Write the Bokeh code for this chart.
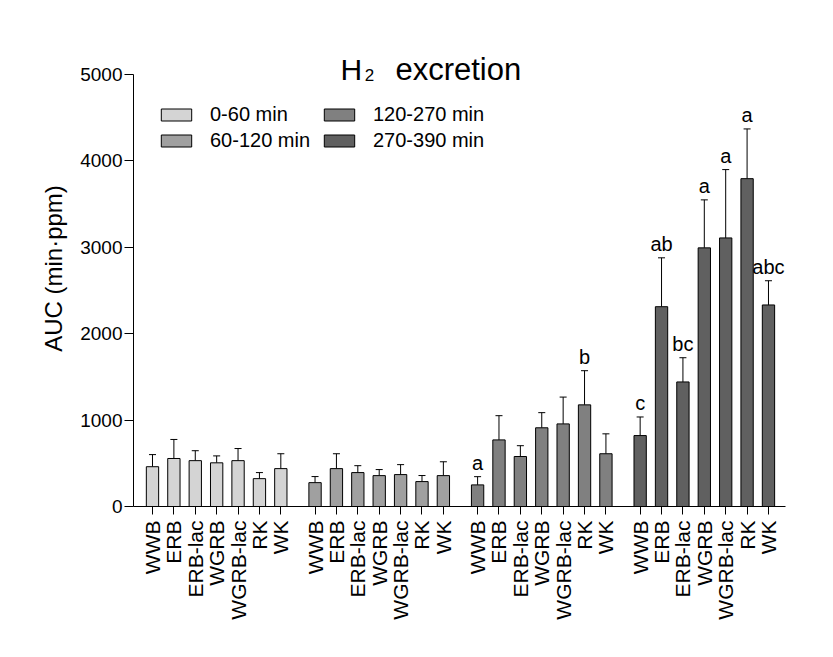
from bokeh.plotting import figure
from bokeh.models import ColumnDataSource, Legend, LegendItem, Label, Range1d, FixedTicker
from bokeh.embed import file_html
from bokeh.resources import INLINE
from bokeh.core.properties import value

# ---------------- data ----------------
categories = ["WWB", "ERB", "ERB-lac", "WGRB", "WGRB-lac", "RK", "WK"]
periods = ["0-60 min", "60-120 min", "120-270 min", "270-390 min"]

auc_0_60 = [460, 555, 530, 505, 530, 322, 438]
err_0_60 = [140, 220, 115, 80, 140, 70, 172]
auc_60_120 = [276, 438, 392, 357, 369, 288, 357]
err_60_120 = [70, 172, 80, 70, 115, 70, 160]
auc_120_270 = [250, 770, 578, 910, 955, 1175, 610]
err_120_270 = [95, 280, 125, 175, 310, 395, 230]
auc_270_390 = [820, 2310, 1440, 2990, 3105, 3790, 2330]
err_270_390 = [215, 565, 280, 555, 790, 575, 280]

letters_0_60 = ["", "", "", "", "", "", ""]
letters_60_120 = ["", "", "", "", "", "", ""]
letters_120_270 = ["a", "", "", "", "", "b", ""]
letters_270_390 = ["c", "ab", "bc", "a", "a", "a", "abc"]

y_ticks = [0, 1000, 2000, 3000, 4000, 5000]
colors = ["#d4d4d4", "#a0a0a0", "#808080", "#606060"]

means = [auc_0_60, auc_60_120, auc_120_270, auc_270_390]
errs = [err_0_60, err_60_120, err_120_270, err_270_390]
letters = [letters_0_60, letters_60_120, letters_120_270, letters_270_390]

# ---------------- layout constants ----------------
STEP = 5          # distance between bars inside a group
GROUP = 38        # distance between group starts
BAR_W = 2.88
CAP = 0.82
FONT = "Liberation Sans"

p = figure(width=817, height=641, output_backend="svg", toolbar_location=None,
           x_range=Range1d(-4.44, 147.98), y_range=Range1d(0, 5503),
           min_border_left=133, min_border_right=32, min_border_top=30,
           min_border_bottom=135)
p.outline_line_color = None
p.grid.grid_line_color = None
p.background_fill_color = "white"

renderers = []
tick_pos = []
tick_lab = {}
for g in range(4):
    xs = [g * GROUP + i * STEP for i in range(len(categories))]
    tops = [m + e for m, e in zip(means[g], errs[g])]
    src = ColumnDataSource(dict(x=xs, top=means[g], etop=tops,
                                x0=[x - CAP for x in xs], x1=[x + CAP for x in xs],
                                lab=letters[g]))
    p.segment(x0="x", y0="top", x1="x", y1="etop", source=src, line_color="black", line_width=1)
    p.segment(x0="x0", y0="etop", x1="x1", y1="etop", source=src, line_color="black", line_width=1)
    r = p.vbar(x="x", top="top", width=BAR_W, bottom=0, source=src,
               fill_color=colors[g], line_color="black", line_width=1)
    renderers.append(r)
    p.text(x="x", y="etop", text="lab", source=src, text_align="center",
           text_baseline="alphabetic", y_offset=-14, text_font=value(FONT),
           text_font_size="20px", text_color="black")
    for x, c in zip(xs, categories):
        tick_pos.append(x)
        tick_lab[x] = c

# axes
p.xaxis.ticker = FixedTicker(ticks=tick_pos)
p.xaxis.major_label_overrides = tick_lab
p.xaxis.major_label_orientation = 3.14159265 / 2
p.xaxis.minor_tick_line_color = None
p.xaxis.major_tick_in = 0
p.xaxis.major_tick_out = 8
p.xaxis.major_label_standoff = 6
p.xaxis.major_label_text_font = FONT
p.xaxis.major_label_text_font_size = "21px"
p.xaxis.major_label_text_color = "black"

p.yaxis.ticker = FixedTicker(ticks=y_ticks)
p.yaxis.bounds = (0, 5000)
p.yaxis.minor_tick_line_color = None
p.yaxis.major_tick_in = 0
p.yaxis.major_tick_out = 9
p.yaxis.major_label_standoff = 2
p.yaxis.major_label_text_font = FONT
p.yaxis.major_label_text_font_size = "19px"
p.yaxis.major_label_text_color = "black"
p.yaxis.axis_label = "AUC (min\u00b7ppm)"
p.yaxis.axis_label_text_font = FONT
p.yaxis.axis_label_text_font_size = "24px"
p.yaxis.axis_label_text_font_style = "normal"
p.yaxis.axis_label_text_color = "black"
p.yaxis.axis_label_standoff = 10

for ax in (p.xaxis, p.yaxis):
    ax.axis_line_color = "black"
    ax.major_tick_line_color = "black"

# legend
items = [LegendItem(label=periods[g], renderers=[renderers[g]]) for g in range(4)]
legend = Legend(items=items, location=(24, 354), orientation="vertical", ncols=2,
                glyph_width=38, glyph_height=15, label_height=15, spacing=3,
                padding=0, margin=0, label_standoff=15, label_width=107,
                label_text_font=FONT, label_text_font_size="20px",
                label_text_color="black", border_line_color=None,
                background_fill_alpha=0)
p.add_layout(legend, "center")

# title (H2 with subscript)
p.add_layout(Label(x=43.95, y=5048, text="H", text_font=FONT, text_font_size="30px",
                   text_align="left", text_baseline="alphabetic", text_color="black"))
p.add_layout(Label(x=49.6, y=4983, text="2", text_font=FONT, text_font_size="17px",
                   text_align="left", text_baseline="alphabetic", text_color="black"))
p.add_layout(Label(x=71.5, y=5048, text="excretion", text_font=FONT, text_font_size="31px",
                   text_align="center", text_baseline="alphabetic", text_color="black"))

open("out.html", "w").write(file_html(p, INLINE))
